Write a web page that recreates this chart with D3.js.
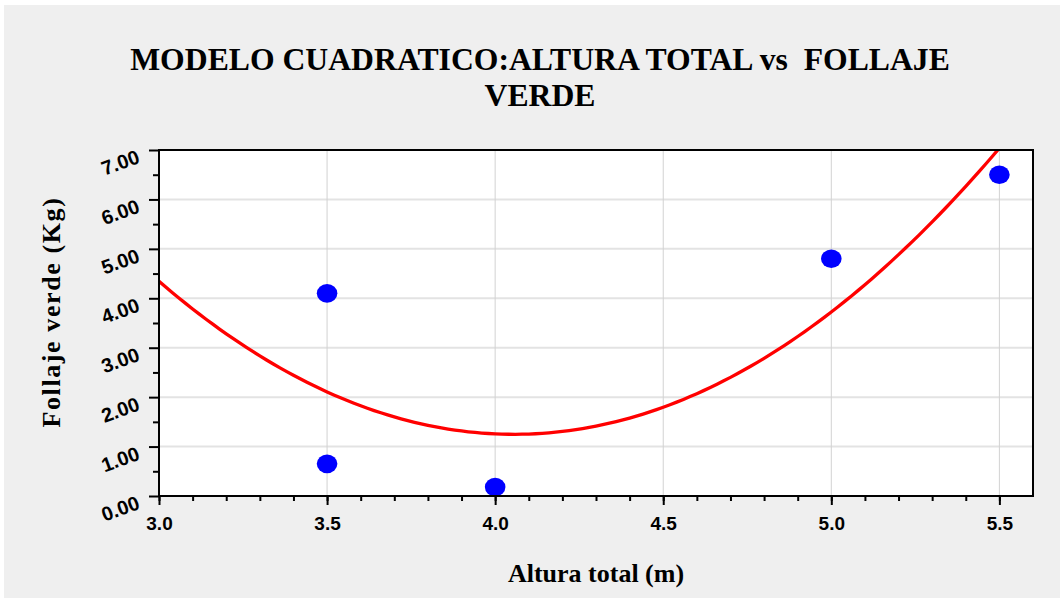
<!DOCTYPE html>
<html>
<head>
<meta charset="utf-8">
<script src="https://cdn.jsdelivr.net/npm/d3@7"></script>
<style>
  body { margin: 0; background: #fff; }
  svg { display: block; }
</style>
</head>
<body>
<script>
// observed points
var alturas = [3.5, 3.5, 4.0, 5.0, 5.5];
var follaje = [4.10, 0.65, 0.18, 4.80, 6.50];

var xTicks = [3.0, 3.5, 4.0, 4.5, 5.0, 5.5];
var yTicks = [0, 1, 2, 3, 4, 5, 6, 7];
var tituloLineas = ['MODELO CUADRATICO:ALTURA TOTAL vs  FOLLAJE', 'VERDE'];

var width = 1060, height = 598;
var margin = { top: 150, left: 159, right: 27, bottom: 102 };

var svg = d3.select('body').append('svg')
  .attr('width', width)
  .attr('height', height);

svg.append('rect')
  .attr('x', 4).attr('y', 5)
  .attr('width', width - 4).attr('height', height - 5)
  .attr('fill', '#efefef');

var x = d3.scaleLinear()
  .domain([3.0, 5.6])
  .range([margin.left, width - margin.right]);

var y = d3.scaleLinear()
  .domain([0, 7])
  .range([height - margin.bottom, margin.top]);

// least squares quadratic fit  y = c0 + c1 x + c2 x^2
function fitQuad(xs, ys) {
  var s = [0, 0, 0, 0, 0], t = [0, 0, 0];
  for (var i = 0; i < xs.length; i++) {
    var p = 1;
    for (var k = 0; k < 5; k++) { s[k] += p; if (k < 3) t[k] += p * ys[i]; p *= xs[i]; }
  }
  var m = [[s[0], s[1], s[2], t[0]], [s[1], s[2], s[3], t[1]], [s[2], s[3], s[4], t[2]]];
  for (var c = 0; c < 3; c++) {
    for (var r = c + 1; r < 3; r++) {
      var f = m[r][c] / m[c][c];
      for (var j = c; j < 4; j++) m[r][j] -= f * m[c][j];
    }
  }
  var b = [0, 0, 0];
  for (var r2 = 2; r2 >= 0; r2--) {
    var v = m[r2][3];
    for (var j2 = r2 + 1; j2 < 3; j2++) v -= m[r2][j2] * b[j2];
    b[r2] = v / m[r2][r2];
  }
  return b;
}
var coef = fitQuad(alturas, follaje);

// plot background
svg.append('rect')
  .attr('x', x(3.0)).attr('y', y(7))
  .attr('width', x(5.6) - x(3.0)).attr('height', y(0) - y(7))
  .attr('fill', '#fff');

// grid
svg.append('g').selectAll('line')
  .data(yTicks.slice(1, -1))
  .enter().append('line')
  .attr('x1', x(3.0)).attr('x2', x(5.6))
  .attr('y1', d => y(d)).attr('y2', d => y(d))
  .attr('stroke', '#e3e3e3').attr('stroke-width', 2);

svg.append('g').selectAll('line')
  .data(xTicks.slice(1))
  .enter().append('line')
  .attr('x1', d => x(d)).attr('x2', d => x(d))
  .attr('y1', y(0)).attr('y2', y(7))
  .attr('stroke', '#d2d2d2').attr('stroke-width', 1);

// fitted curve
svg.append('clipPath').attr('id', 'clip')
  .append('rect')
  .attr('x', x(3.0)).attr('y', y(7))
  .attr('width', x(5.6) - x(3.0)).attr('height', y(0) - y(7));

var curveX = d3.range(3.0, 5.6001, 0.02);
var line = d3.line()
  .x(d => x(d))
  .y(d => y(coef[0] + coef[1] * d + coef[2] * d * d));

svg.append('path')
  .datum(curveX)
  .attr('clip-path', 'url(#clip)')
  .attr('d', line)
  .attr('fill', 'none')
  .attr('stroke', '#ff0000')
  .attr('stroke-width', 3.3);

// points
svg.append('g').selectAll('ellipse')
  .data(alturas)
  .enter().append('ellipse')
  .attr('cx', d => x(d))
  .attr('cy', (d, i) => y(follaje[i]))
  .attr('rx', 10.3).attr('ry', 9.3)
  .attr('fill', '#0000ff');

// frame
svg.append('rect')
  .attr('x', x(3.0)).attr('y', y(7))
  .attr('width', x(5.6) - x(3.0)).attr('height', y(0) - y(7))
  .attr('fill', 'none')
  .attr('stroke', '#000').attr('stroke-width', 2);

// x axis
var xAxis = svg.append('g')
  .attr('transform', `translate(0,${y(0)})`)
  .call(d3.axisBottom(x).tickValues(d3.range(3.0, 5.55, 0.1)).tickSize(5).tickFormat(''));
xAxis.select('.domain').remove();
xAxis.selectAll('line').attr('stroke-width', 2);

var xMajor = svg.append('g')
  .attr('transform', `translate(0,${y(0)})`)
  .call(d3.axisBottom(x).tickValues(xTicks).tickSize(9).tickPadding(12).tickFormat(d3.format('.1f')));
xMajor.select('.domain').remove();
xMajor.selectAll('line').attr('stroke-width', 2);
xMajor.selectAll('text')
  .attr('font-family', '"Liberation Sans", Arial, sans-serif')
  .attr('font-weight', 'bold')
  .attr('font-size', 19)
  .attr('fill', '#000');

// y axis
var yMinor = svg.append('g')
  .attr('transform', `translate(${x(3.0)},0)`)
  .call(d3.axisLeft(y).tickValues(d3.range(0.5, 7, 1)).tickSize(6).tickFormat(''));
yMinor.select('.domain').remove();
yMinor.selectAll('line').attr('stroke-width', 2);

var yMajor = svg.append('g')
  .attr('transform', `translate(${x(3.0)},0)`)
  .call(d3.axisLeft(y).tickValues(yTicks).tickSize(10).tickFormat(d3.format('.2f')));
yMajor.select('.domain').remove();
yMajor.selectAll('line').attr('stroke-width', 2);
yMajor.selectAll('text')
  .attr('font-family', '"Liberation Sans", Arial, sans-serif')
  .attr('font-weight', 'bold')
  .attr('font-size', 20)
  .attr('fill', '#000')
  .attr('x', -18)
  .attr('y', 12)
  .attr('dy', 0)
  .attr('transform', 'rotate(-20,-18,12)');

// title
svg.append('text')
  .attr('font-family', '"Liberation Serif", "Times New Roman", serif')
  .attr('font-weight', 'bold')
  .attr('font-size', 31.7)
  .attr('text-anchor', 'middle')
  .style('white-space', 'pre')
  .selectAll('tspan')
  .data(tituloLineas)
  .enter().append('tspan')
  .attr('x', 540)
  .attr('y', (d, i) => 70 + i * 36)
  .text(d => d);

// axis titles
svg.append('text')
  .attr('x', (x(3.0) + x(5.6)) / 2)
  .attr('y', 582)
  .attr('text-anchor', 'middle')
  .attr('font-family', '"Liberation Serif", "Times New Roman", serif')
  .attr('font-weight', 'bold')
  .attr('font-size', 26)
  .text('Altura total (m)');

svg.append('text')
  .attr('transform', 'translate(60,312) rotate(-90)')
  .attr('text-anchor', 'middle')
  .attr('font-family', '"Liberation Serif", "Times New Roman", serif')
  .attr('font-weight', 'bold')
  .attr('font-size', 26)
  .attr('letter-spacing', 1.6)
  .text('Follaje verde (Kg)');
</script>
</body>
</html>
